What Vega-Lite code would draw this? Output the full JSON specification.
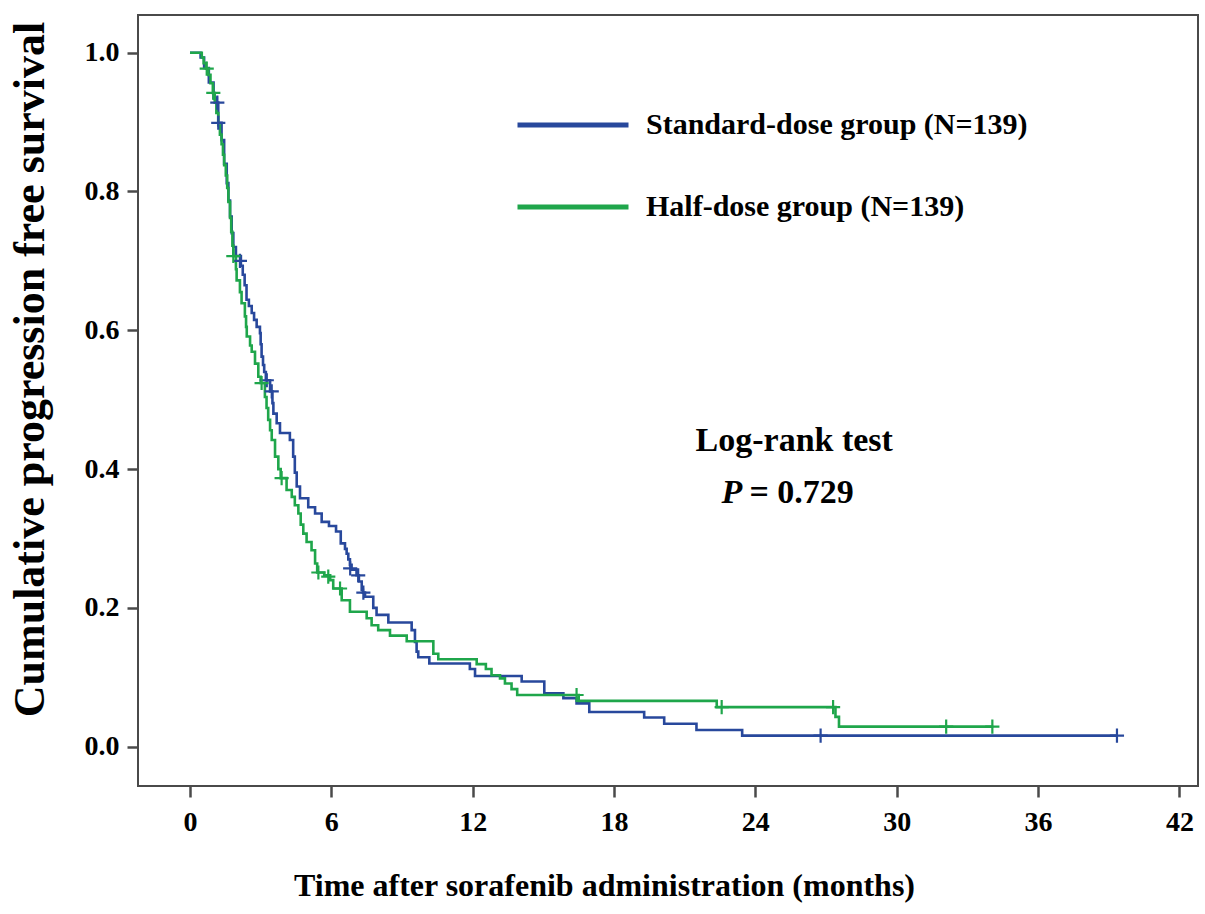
{
  "$schema": "https://vega.github.io/schema/vega-lite/v6.json",
  "width": 1060,
  "height": 771,
  "autosize": {"type": "none"},
  "padding": {"left": 138, "top": 15, "right": 7, "bottom": 128},
  "background": "white",
  "config": {
    "font": "Liberation Serif",
    "view": {"stroke": "#4a4a4a", "strokeWidth": 2},
    "axis": {
      "domain": false,
      "grid": false,
      "tickColor": "#4a4a4a",
      "tickWidth": 2.5,
      "tickSize": 11,
      "labelFont": "Liberation Serif",
      "labelFontWeight": "bold",
      "labelFontSize": 28,
      "labelColor": "#000000",
      "titleFont": "Liberation Serif",
      "titleFontWeight": "bold",
      "titleColor": "#000000"
    }
  },
  "datasets": {
    "curves": [
      {"group": "Standard-dose group (N=139)", "t": 0, "s": 1.0},
      {"group": "Standard-dose group (N=139)", "t": 0.45, "s": 0.993},
      {"group": "Standard-dose group (N=139)", "t": 0.6, "s": 0.978},
      {"group": "Standard-dose group (N=139)", "t": 0.8, "s": 0.957},
      {"group": "Standard-dose group (N=139)", "t": 1.0, "s": 0.935},
      {"group": "Standard-dose group (N=139)", "t": 1.14, "s": 0.928},
      {"group": "Standard-dose group (N=139)", "t": 1.2, "s": 0.899},
      {"group": "Standard-dose group (N=139)", "t": 1.34, "s": 0.874},
      {"group": "Standard-dose group (N=139)", "t": 1.45, "s": 0.84},
      {"group": "Standard-dose group (N=139)", "t": 1.56, "s": 0.812},
      {"group": "Standard-dose group (N=139)", "t": 1.63, "s": 0.787},
      {"group": "Standard-dose group (N=139)", "t": 1.7, "s": 0.764},
      {"group": "Standard-dose group (N=139)", "t": 1.77, "s": 0.74},
      {"group": "Standard-dose group (N=139)", "t": 1.84, "s": 0.72},
      {"group": "Standard-dose group (N=139)", "t": 1.95, "s": 0.707},
      {"group": "Standard-dose group (N=139)", "t": 2.16, "s": 0.693},
      {"group": "Standard-dose group (N=139)", "t": 2.24, "s": 0.68},
      {"group": "Standard-dose group (N=139)", "t": 2.32, "s": 0.665},
      {"group": "Standard-dose group (N=139)", "t": 2.4, "s": 0.644},
      {"group": "Standard-dose group (N=139)", "t": 2.5, "s": 0.635},
      {"group": "Standard-dose group (N=139)", "t": 2.62, "s": 0.625},
      {"group": "Standard-dose group (N=139)", "t": 2.72, "s": 0.615},
      {"group": "Standard-dose group (N=139)", "t": 2.83, "s": 0.605},
      {"group": "Standard-dose group (N=139)", "t": 2.97, "s": 0.596},
      {"group": "Standard-dose group (N=139)", "t": 3.0, "s": 0.58},
      {"group": "Standard-dose group (N=139)", "t": 3.04, "s": 0.562},
      {"group": "Standard-dose group (N=139)", "t": 3.1, "s": 0.55},
      {"group": "Standard-dose group (N=139)", "t": 3.15, "s": 0.54},
      {"group": "Standard-dose group (N=139)", "t": 3.22, "s": 0.528},
      {"group": "Standard-dose group (N=139)", "t": 3.4, "s": 0.512},
      {"group": "Standard-dose group (N=139)", "t": 3.5, "s": 0.495},
      {"group": "Standard-dose group (N=139)", "t": 3.54, "s": 0.48},
      {"group": "Standard-dose group (N=139)", "t": 3.68, "s": 0.466},
      {"group": "Standard-dose group (N=139)", "t": 3.82, "s": 0.452},
      {"group": "Standard-dose group (N=139)", "t": 4.24, "s": 0.442},
      {"group": "Standard-dose group (N=139)", "t": 4.38, "s": 0.418},
      {"group": "Standard-dose group (N=139)", "t": 4.45, "s": 0.395},
      {"group": "Standard-dose group (N=139)", "t": 4.53, "s": 0.375},
      {"group": "Standard-dose group (N=139)", "t": 4.67, "s": 0.358},
      {"group": "Standard-dose group (N=139)", "t": 5.02, "s": 0.345},
      {"group": "Standard-dose group (N=139)", "t": 5.31, "s": 0.336},
      {"group": "Standard-dose group (N=139)", "t": 5.59, "s": 0.324},
      {"group": "Standard-dose group (N=139)", "t": 5.9, "s": 0.318},
      {"group": "Standard-dose group (N=139)", "t": 6.2, "s": 0.31},
      {"group": "Standard-dose group (N=139)", "t": 6.4, "s": 0.293},
      {"group": "Standard-dose group (N=139)", "t": 6.58, "s": 0.285},
      {"group": "Standard-dose group (N=139)", "t": 6.65, "s": 0.278},
      {"group": "Standard-dose group (N=139)", "t": 6.72, "s": 0.27},
      {"group": "Standard-dose group (N=139)", "t": 6.79, "s": 0.262},
      {"group": "Standard-dose group (N=139)", "t": 6.86, "s": 0.255},
      {"group": "Standard-dose group (N=139)", "t": 7.07, "s": 0.247},
      {"group": "Standard-dose group (N=139)", "t": 7.17, "s": 0.238},
      {"group": "Standard-dose group (N=139)", "t": 7.29, "s": 0.226},
      {"group": "Standard-dose group (N=139)", "t": 7.34, "s": 0.222},
      {"group": "Standard-dose group (N=139)", "t": 7.43, "s": 0.216},
      {"group": "Standard-dose group (N=139)", "t": 7.78, "s": 0.2},
      {"group": "Standard-dose group (N=139)", "t": 7.92, "s": 0.19},
      {"group": "Standard-dose group (N=139)", "t": 8.42, "s": 0.179},
      {"group": "Standard-dose group (N=139)", "t": 9.41, "s": 0.168},
      {"group": "Standard-dose group (N=139)", "t": 9.55, "s": 0.151},
      {"group": "Standard-dose group (N=139)", "t": 9.62, "s": 0.137},
      {"group": "Standard-dose group (N=139)", "t": 9.69, "s": 0.129},
      {"group": "Standard-dose group (N=139)", "t": 10.16, "s": 0.12},
      {"group": "Standard-dose group (N=139)", "t": 11.88, "s": 0.112},
      {"group": "Standard-dose group (N=139)", "t": 12.1, "s": 0.102},
      {"group": "Standard-dose group (N=139)", "t": 14.08, "s": 0.094},
      {"group": "Standard-dose group (N=139)", "t": 15.04, "s": 0.077},
      {"group": "Standard-dose group (N=139)", "t": 15.85, "s": 0.07},
      {"group": "Standard-dose group (N=139)", "t": 16.41, "s": 0.0625},
      {"group": "Standard-dose group (N=139)", "t": 16.95, "s": 0.05},
      {"group": "Standard-dose group (N=139)", "t": 19.28, "s": 0.042},
      {"group": "Standard-dose group (N=139)", "t": 20.13, "s": 0.033},
      {"group": "Standard-dose group (N=139)", "t": 21.5, "s": 0.024},
      {"group": "Standard-dose group (N=139)", "t": 23.44, "s": 0.016},
      {"group": "Standard-dose group (N=139)", "t": 39.35, "s": 0.016},
      {"group": "Half-dose group (N=139)", "t": 0, "s": 1.0},
      {"group": "Half-dose group (N=139)", "t": 0.42, "s": 1.0},
      {"group": "Half-dose group (N=139)", "t": 0.5, "s": 0.993},
      {"group": "Half-dose group (N=139)", "t": 0.58, "s": 0.985},
      {"group": "Half-dose group (N=139)", "t": 0.68, "s": 0.977},
      {"group": "Half-dose group (N=139)", "t": 0.78, "s": 0.968},
      {"group": "Half-dose group (N=139)", "t": 0.87, "s": 0.956},
      {"group": "Half-dose group (N=139)", "t": 0.97, "s": 0.942},
      {"group": "Half-dose group (N=139)", "t": 1.05, "s": 0.928},
      {"group": "Half-dose group (N=139)", "t": 1.12, "s": 0.913},
      {"group": "Half-dose group (N=139)", "t": 1.2, "s": 0.895},
      {"group": "Half-dose group (N=139)", "t": 1.27, "s": 0.882},
      {"group": "Half-dose group (N=139)", "t": 1.34, "s": 0.868},
      {"group": "Half-dose group (N=139)", "t": 1.4, "s": 0.853},
      {"group": "Half-dose group (N=139)", "t": 1.45, "s": 0.838},
      {"group": "Half-dose group (N=139)", "t": 1.52, "s": 0.823},
      {"group": "Half-dose group (N=139)", "t": 1.58, "s": 0.805},
      {"group": "Half-dose group (N=139)", "t": 1.63, "s": 0.785},
      {"group": "Half-dose group (N=139)", "t": 1.7, "s": 0.762},
      {"group": "Half-dose group (N=139)", "t": 1.75, "s": 0.742},
      {"group": "Half-dose group (N=139)", "t": 1.8, "s": 0.722},
      {"group": "Half-dose group (N=139)", "t": 1.84, "s": 0.707},
      {"group": "Half-dose group (N=139)", "t": 1.95, "s": 0.688},
      {"group": "Half-dose group (N=139)", "t": 1.98, "s": 0.672},
      {"group": "Half-dose group (N=139)", "t": 2.12, "s": 0.655},
      {"group": "Half-dose group (N=139)", "t": 2.19, "s": 0.639},
      {"group": "Half-dose group (N=139)", "t": 2.33, "s": 0.62},
      {"group": "Half-dose group (N=139)", "t": 2.38, "s": 0.605},
      {"group": "Half-dose group (N=139)", "t": 2.41, "s": 0.591},
      {"group": "Half-dose group (N=139)", "t": 2.55, "s": 0.578},
      {"group": "Half-dose group (N=139)", "t": 2.62, "s": 0.569},
      {"group": "Half-dose group (N=139)", "t": 2.76, "s": 0.552},
      {"group": "Half-dose group (N=139)", "t": 2.9, "s": 0.533},
      {"group": "Half-dose group (N=139)", "t": 3.0, "s": 0.524},
      {"group": "Half-dose group (N=139)", "t": 3.18, "s": 0.504},
      {"group": "Half-dose group (N=139)", "t": 3.25, "s": 0.488},
      {"group": "Half-dose group (N=139)", "t": 3.32, "s": 0.471},
      {"group": "Half-dose group (N=139)", "t": 3.4, "s": 0.456},
      {"group": "Half-dose group (N=139)", "t": 3.47, "s": 0.442},
      {"group": "Half-dose group (N=139)", "t": 3.61, "s": 0.418},
      {"group": "Half-dose group (N=139)", "t": 3.75, "s": 0.4},
      {"group": "Half-dose group (N=139)", "t": 3.85, "s": 0.387},
      {"group": "Half-dose group (N=139)", "t": 4.1, "s": 0.37},
      {"group": "Half-dose group (N=139)", "t": 4.32, "s": 0.36},
      {"group": "Half-dose group (N=139)", "t": 4.45, "s": 0.348},
      {"group": "Half-dose group (N=139)", "t": 4.6, "s": 0.336},
      {"group": "Half-dose group (N=139)", "t": 4.7, "s": 0.32},
      {"group": "Half-dose group (N=139)", "t": 4.81, "s": 0.307},
      {"group": "Half-dose group (N=139)", "t": 4.95, "s": 0.295},
      {"group": "Half-dose group (N=139)", "t": 5.16, "s": 0.283},
      {"group": "Half-dose group (N=139)", "t": 5.31, "s": 0.264},
      {"group": "Half-dose group (N=139)", "t": 5.4, "s": 0.251},
      {"group": "Half-dose group (N=139)", "t": 5.7, "s": 0.247},
      {"group": "Half-dose group (N=139)", "t": 5.95, "s": 0.24},
      {"group": "Half-dose group (N=139)", "t": 6.08, "s": 0.228},
      {"group": "Half-dose group (N=139)", "t": 6.44, "s": 0.211},
      {"group": "Half-dose group (N=139)", "t": 6.79, "s": 0.1945},
      {"group": "Half-dose group (N=139)", "t": 7.5, "s": 0.185},
      {"group": "Half-dose group (N=139)", "t": 7.71, "s": 0.175},
      {"group": "Half-dose group (N=139)", "t": 7.99, "s": 0.168},
      {"group": "Half-dose group (N=139)", "t": 8.49, "s": 0.16},
      {"group": "Half-dose group (N=139)", "t": 9.2, "s": 0.152},
      {"group": "Half-dose group (N=139)", "t": 10.33, "s": 0.134},
      {"group": "Half-dose group (N=139)", "t": 10.54, "s": 0.126},
      {"group": "Half-dose group (N=139)", "t": 12.17, "s": 0.119},
      {"group": "Half-dose group (N=139)", "t": 12.56, "s": 0.112},
      {"group": "Half-dose group (N=139)", "t": 12.8, "s": 0.103},
      {"group": "Half-dose group (N=139)", "t": 13.16, "s": 0.0985},
      {"group": "Half-dose group (N=139)", "t": 13.37, "s": 0.091},
      {"group": "Half-dose group (N=139)", "t": 13.65, "s": 0.083},
      {"group": "Half-dose group (N=139)", "t": 13.89, "s": 0.0745},
      {"group": "Half-dose group (N=139)", "t": 16.5, "s": 0.066},
      {"group": "Half-dose group (N=139)", "t": 22.36, "s": 0.057},
      {"group": "Half-dose group (N=139)", "t": 27.4, "s": 0.043},
      {"group": "Half-dose group (N=139)", "t": 27.55, "s": 0.029},
      {"group": "Half-dose group (N=139)", "t": 34.1, "s": 0.029}
    ],
    "censors": [
      {"group": "Standard-dose group (N=139)", "t": 1.16, "s": 0.928},
      {"group": "Standard-dose group (N=139)", "t": 1.2, "s": 0.899},
      {"group": "Standard-dose group (N=139)", "t": 2.12, "s": 0.70},
      {"group": "Standard-dose group (N=139)", "t": 3.26, "s": 0.528},
      {"group": "Standard-dose group (N=139)", "t": 3.47, "s": 0.512},
      {"group": "Standard-dose group (N=139)", "t": 6.8, "s": 0.257},
      {"group": "Standard-dose group (N=139)", "t": 7.14, "s": 0.247},
      {"group": "Standard-dose group (N=139)", "t": 7.36, "s": 0.222},
      {"group": "Standard-dose group (N=139)", "t": 26.77, "s": 0.016},
      {"group": "Standard-dose group (N=139)", "t": 39.35, "s": 0.016},
      {"group": "Half-dose group (N=139)", "t": 0.71, "s": 0.977},
      {"group": "Half-dose group (N=139)", "t": 0.99, "s": 0.942},
      {"group": "Half-dose group (N=139)", "t": 1.84, "s": 0.707},
      {"group": "Half-dose group (N=139)", "t": 3.04, "s": 0.524},
      {"group": "Half-dose group (N=139)", "t": 3.89, "s": 0.387},
      {"group": "Half-dose group (N=139)", "t": 5.45, "s": 0.251},
      {"group": "Half-dose group (N=139)", "t": 5.87, "s": 0.245},
      {"group": "Half-dose group (N=139)", "t": 6.37, "s": 0.228},
      {"group": "Half-dose group (N=139)", "t": 16.41, "s": 0.0745},
      {"group": "Half-dose group (N=139)", "t": 22.57, "s": 0.057},
      {"group": "Half-dose group (N=139)", "t": 27.3, "s": 0.057},
      {"group": "Half-dose group (N=139)", "t": 32.1, "s": 0.029},
      {"group": "Half-dose group (N=139)", "t": 34.06, "s": 0.029}
    ],
    "notes": [
      {"label": "Log-rank test"}
    ],
    "pnote": [
      {"label": "P"}
    ],
    "pvalue": [
      {"label": "= 0.729"}
    ]
  },
  "layer": [
    {
      "data": {"name": "curves"},
      "mark": {"type": "line", "interpolate": "step-after", "strokeWidth": 2.6},
      "encoding": {
        "x": {
          "field": "t", "type": "quantitative",
          "scale": {"domain": [-2.207, 42.79], "nice": false, "zero": false},
          "axis": {"values": [0, 6, 12, 18, 24, 30, 36, 42], "labelPadding": 11, "title": "Time after sorafenib administration (months)", "titleFontSize": 32, "titleX": 466, "titleY": 99, "titleBaseline": "middle", "titleAnchor": null}
        },
        "y": {
          "field": "s", "type": "quantitative",
          "scale": {"domain": [-0.0566, 1.0543], "nice": false, "zero": false},
          "axis": {"values": [0, 0.2, 0.4, 0.6, 0.8, 1.0], "format": ".1f", "labelPadding": 8, "title": "Cumulative progression free survival", "titleFontSize": 44, "titleX": -108, "titleY": 354, "titleBaseline": "middle", "titleAlign": "center", "titleAngle": -90}
        },
        "color": {
          "field": "group", "type": "nominal",
          "scale": {"domain": ["Standard-dose group (N=139)", "Half-dose group (N=139)"], "range": ["#28489c", "#1fa64b"]},
          "legend": {
            "title": null,
            "orient": "none",
            "legendX": 414,
            "legendY": 89,
            "symbolType": "M-3,0H3",
            "symbolSize": 1369,
            "symbolStrokeWidth": 5,
            "symbolFillColor": "transparent",
            "labelFont": "Liberation Serif",
            "labelFontWeight": "bold",
            "labelFontSize": 30,
            "labelColor": "#000000",
            "labelOffset": 52,
            "labelLimit": 0,
            "rowPadding": 46,
            "padding": 0
          }
        }
      }
    },
    {
      "data": {"name": "censors"},
      "mark": {"type": "point", "shape": "M-1,0H1M0,-1V1", "size": 200, "strokeWidth": 2.2, "filled": false, "opacity": 1},
      "encoding": {
        "x": {"field": "t", "type": "quantitative"},
        "y": {"field": "s", "type": "quantitative"},
        "color": {"field": "group", "type": "nominal"}
      }
    },
    {
      "data": {"name": "notes"},
      "mark": {"type": "text", "font": "Liberation Serif", "fontWeight": "bold", "fontSize": 34, "align": "center", "baseline": "middle", "color": "#000000"},
      "encoding": {
        "x": {"datum": 25.65},
        "y": {"datum": 0.44},
        "text": {"field": "label"}
      }
    },
    {
      "data": {"name": "pnote"},
      "mark": {"type": "text", "font": "Liberation Serif", "fontWeight": "bold", "fontStyle": "italic", "fontSize": 34, "align": "right", "baseline": "middle", "color": "#000000"},
      "encoding": {
        "x": {"datum": 23.45},
        "y": {"datum": 0.366},
        "text": {"field": "label"}
      }
    },
    {
      "data": {"name": "pvalue"},
      "mark": {"type": "text", "font": "Liberation Serif", "fontWeight": "bold", "fontSize": 34, "align": "left", "baseline": "middle", "color": "#000000"},
      "encoding": {
        "x": {"datum": 23.75},
        "y": {"datum": 0.366},
        "text": {"field": "label"}
      }
    }
  ]
}
